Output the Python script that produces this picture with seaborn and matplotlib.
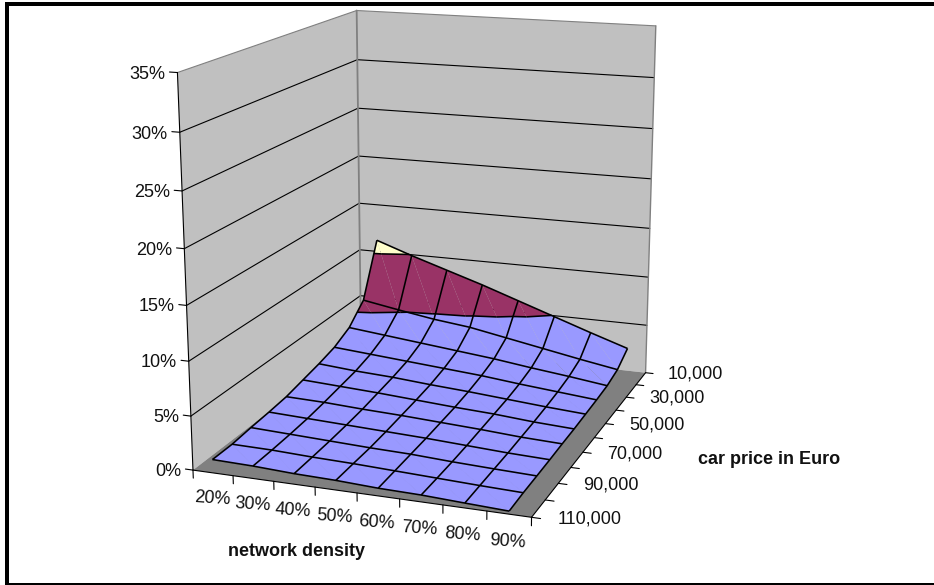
import numpy as np
import matplotlib
matplotlib.use("Agg")
import matplotlib.pyplot as plt
from matplotlib.patches import Rectangle
from mpl_toolkits.mplot3d import Axes3D  # noqa: F401
from mpl_toolkits.mplot3d.art3d import Poly3DCollection, Line3DCollection
import seaborn as sns

# ------------------ Data ------------------
density = [20, 30, 40, 50, 60, 70, 80, 90]
price = [10000, 20000, 30000, 40000, 50000, 60000, 70000, 80000, 90000, 100000, 110000]
share_10k = [11.2, 9.9, 8.7, 7.5, 6.2, 4.9, 3.6, 2.35]
share_20k = [5.8, 5.15, 4.55, 4.1, 3.4, 2.7, 2.0, 1.35]
share_30k = [4.0, 3.6, 3.2, 2.8, 2.4, 1.9, 1.45, 0.95]
share_40k = [3.1, 2.8, 2.5, 2.2, 1.9, 1.5, 1.15, 0.8]
share_50k = [2.6, 2.3, 2.1, 1.8, 1.55, 1.25, 0.95, 0.7]
share_60k = [2.2, 2.0, 1.8, 1.55, 1.3, 1.1, 0.8, 0.6]
share_70k = [1.8, 1.7, 1.5, 1.35, 1.15, 0.95, 0.7, 0.55]
share_80k = [1.6, 1.45, 1.3, 1.15, 1.0, 0.8, 0.6, 0.47]
share_90k = [1.45, 1.3, 1.15, 1.0, 0.9, 0.7, 0.55, 0.42]
share_100k = [1.25, 1.2, 1.05, 0.95, 0.8, 0.65, 0.5, 0.38]
share_110k = [1.24, 1.15, 0.97, 0.88, 0.7, 0.62, 0.44, 0.27]
z_ticks = [0, 5, 10, 15, 20, 25, 30, 35]
band_levels = [0, 5, 10, 15]
price_labels = ["10,000", "30,000", "50,000", "70,000", "90,000", "110,000"]

shares = np.array([share_10k, share_20k, share_30k, share_40k, share_50k, share_60k,
                   share_70k, share_80k, share_90k, share_100k, share_110k])

# ------------------ Figure ------------------
sns.set_theme(style="white")
plt.rcParams["font.family"] = ["Liberation Sans", "DejaVu Sans"]
band_colors = sns.color_palette(["#9999FF", "#993366", "#FFFFCC"])

W, H = 934, 585
fig = plt.figure(figsize=(W / 100, H / 100), dpi=100, facecolor="white")
ax = fig.add_axes([0, (H - W) / 2 / H, 1, W / H], projection="3d", computed_zorder=False)
ax.set_axis_off()

x_lo, x_hi = 15, 95
y_lo, y_hi = 10000, 110000
z_hi = 35

# ------------------ Excel style camera, fitted on the box corners ------------------
box_world = [(x_lo, y_hi, 0), (x_hi, y_hi, 0), (x_hi, y_lo, 0), (x_lo, y_lo, 0),
             (x_lo, y_hi, z_hi), (x_lo, y_lo, z_hi), (x_hi, y_lo, z_hi)]
box_pixels = [(192, 469), (532, 518), (645, 372), (362, 342),
              (178, 73), (356, 10), (656, 26)]

view = ax.transData.inverted().transform([(px, H - py) for px, py in box_pixels])
scale = np.diag([1 / 100, 1 / 100000, 1 / 35, 1.0])
rows = []
for (wx, wy, wz), (u, v) in zip(box_world, view):
    p = scale @ np.array([wx, wy, wz, 1.0])
    rows.append(np.r_[p, np.zeros(4), -u * p])
    rows.append(np.r_[np.zeros(4), p, -v * p])
camera = np.linalg.svd(np.array(rows))[2][-1].reshape(3, 4) @ scale
if camera[2] @ np.array([50, 50000, 10, 1.0]) < 0:
    camera = -camera
M = np.vstack([camera[0], camera[1], [0, -1e-5, 0, 0], camera[2]])
ax.get_proj = lambda: M


# ------------------ Surface pieces ------------------
def clip_band(tri, lo, hi):
    # cut a triangle to the part between two heights
    poly = [np.array(p, dtype=float) for p in tri]
    for level, sign in ((lo, 1), (hi, -1)):
        out = []
        for a, b in zip(poly, poly[1:] + poly[:1]):
            da, db = sign * (a[2] - level), sign * (b[2] - level)
            if da >= 0:
                out.append(a)
            if da * db < 0:
                out.append(a + (b - a) * da / (da - db))
        poly = out
        if not poly:
            break
    return poly


def contour_segment(tri, level):
    pts = []
    for i in range(3):
        a, b = np.array(tri[i], dtype=float), np.array(tri[(i + 1) % 3], dtype=float)
        if (a[2] - level) * (b[2] - level) < 0:
            pts.append(a + (b - a) * (level - a[2]) / (b[2] - a[2]))
    return pts if len(pts) == 2 else None


polys, poly_colors, poly_edges, contours = [], [], [], []
for j in range(len(price) - 1):
    for i in range(len(density) - 1):
        p00 = (density[i], price[j], shares[j, i])
        p10 = (density[i + 1], price[j], shares[j, i + 1])
        p01 = (density[i], price[j + 1], shares[j + 1, i])
        p11 = (density[i + 1], price[j + 1], shares[j + 1, i + 1])
        for tri in ((p00, p10, p11), (p00, p01, p11)):
            for k, color in enumerate(band_colors):
                piece = clip_band(tri, band_levels[k], band_levels[k + 1])
                if len(piece) >= 3:
                    polys.append(piece)
                    poly_colors.append(color)
                    # blue cells keep closed seams, the upper bands show them faintly
                    poly_edges.append((*color, 1.0 if k == 0 and j > 1 else 0.0))
            for level in band_levels[1:3]:
                seg = contour_segment(tri, level)
                if seg:
                    contours.append(seg)

# ------------------ Walls and floor ------------------
wall_left = [(x_lo, y_hi, 0), (x_lo, y_lo, 0), (x_lo, y_lo, z_hi), (x_lo, y_hi, z_hi)]
wall_back = [(x_lo, y_lo, 0), (x_hi, y_lo, 0), (x_hi, y_lo, z_hi), (x_lo, y_lo, z_hi)]
floor = [(x_lo, y_hi, 0), (x_hi, y_hi, 0), (x_hi, y_lo, 0), (x_lo, y_lo, 0)]
ax.add_collection3d(Poly3DCollection([wall_left, wall_back], facecolors="#C0C0C0",
                                     edgecolors="none", zorder=1))
ax.add_collection3d(Poly3DCollection([floor], facecolors="#808080",
                                     edgecolors="none", zorder=1.5))

for z in z_ticks:
    color = "#808080" if z == z_hi else "black"
    if z > 0:
        ax.plot([x_lo, x_lo, x_hi], [y_hi, y_lo, y_lo], [z, z, z], color=color, lw=0.8, zorder=2)
ax.plot([x_lo, x_lo], [y_lo, y_lo], [0, z_hi], color="#808080", lw=1.3, zorder=2)
ax.plot([x_hi, x_hi], [y_lo, y_lo], [0, z_hi], color="#808080", lw=1.0, zorder=2)

# ------------------ Surface ------------------
ax.add_collection3d(Poly3DCollection(polys, facecolors=poly_colors, edgecolors=poly_edges,
                                     linewidths=0.5, zorder=3))
ax.add_collection3d(Line3DCollection(contours, colors="black", linewidths=1.15, zorder=4))
X, Y = np.meshgrid(density, price)
ax.plot_wireframe(X, Y, shares, rstride=1, cstride=1, color="black", linewidth=1.15, zorder=5)

# ------------------ Axes lines, ticks, labels ------------------
axis_kw = dict(color="black", lw=0.8, zorder=6)
ax.plot([x_lo, x_lo], [y_hi, y_hi], [0, z_hi], **axis_kw)
ax.plot([x_lo, x_hi], [y_hi, y_hi], [0, 0], **axis_kw)
ax.plot([x_hi, x_hi], [y_hi, y_lo], [0, 0], **axis_kw)

for z in z_ticks:
    ax.plot([x_lo - 1.9, x_lo], [y_hi, y_hi], [z, z], **axis_kw)
    ax.text(x_lo - 2.9, y_hi, z - 0.25, f"{z}%", ha="right", va="center", fontsize=13, color="#111111")

for edge in range(x_lo, x_hi + 1, 10):
    ax.plot([edge, edge], [y_hi, y_hi], [0, -0.75], **axis_kw)
for d in density:
    ax.text(d - 0.4, y_hi, -2.45, f"{d}%", zdir=(1, 0, 0.03), ha="center", va="center",
            fontsize=13, color="#111111")

for p in price:
    ax.plot([x_hi, x_hi + 2], [p, p], [0, 0], **axis_kw)
for p, label in zip(price[::2], price_labels):
    ax.text(x_hi + 5.8, p, 0.15, label, ha="left", va="center", fontsize=13, color="#111111")

fig.text(296 / W, 1 - 551 / H, "network density", ha="center", va="center",
         fontsize=13, fontweight="bold", color="#111111")
fig.text(769 / W, 1 - 460 / H, "car price in Euro", ha="center", va="center",
         fontsize=13, fontweight="bold", color="#111111")

# outer chart frame, the right side falls outside the picture
fig.add_artist(Rectangle((7 / W, 0), (W + 10) / W, 1 - 3.5 / H, transform=fig.transFigure,
                         fill=False, edgecolor="black", linewidth=2.88))

fig.savefig("out.png", dpi=100)
